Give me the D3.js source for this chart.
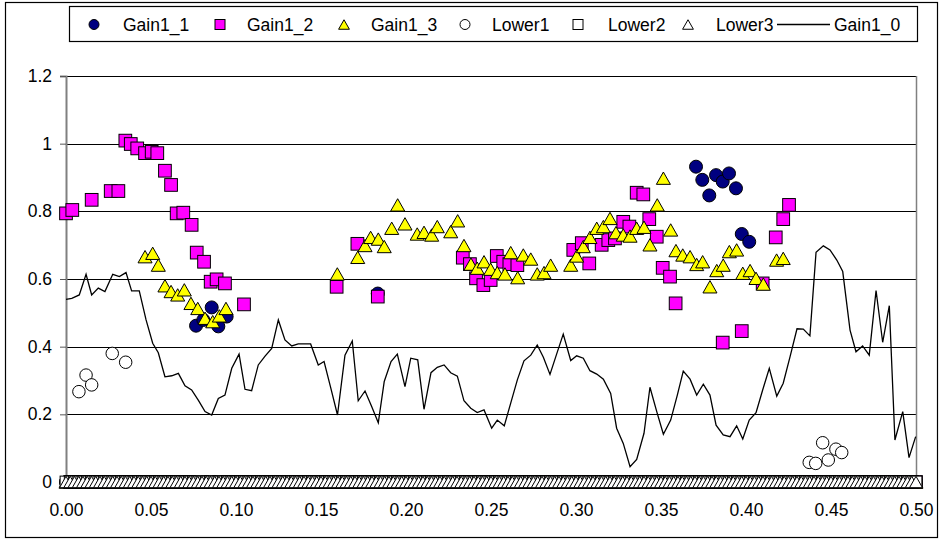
<!DOCTYPE html>
<html>
<head>
<meta charset="utf-8">
<script src="https://cdn.jsdelivr.net/npm/d3@7"></script>
<style>
  html, body { margin: 0; padding: 0; background: #fff; }
  svg { display: block; font-family: "Liberation Sans", Arial, sans-serif; }
</style>
</head>
<body>
<svg id="chart" width="941" height="542"></svg>
<script>
// ---- data -------------------------------------------------------------
const xTicks = [0, 0.05, 0.10, 0.15, 0.20, 0.25, 0.30, 0.35, 0.40, 0.45, 0.50];
const yTicks = [0, 0.2, 0.4, 0.6, 0.8, 1.0, 1.2];
const seriesNames = ["Gain1_1", "Gain1_2", "Gain1_3", "Lower1", "Lower2", "Lower3", "Gain1_0"];

// sampling grid of the zero-valued points along the baseline
const xGrid = d3.range(0, 0.50001, 0.0025);

const gain1_0 = [
  [0,0.540],[0.0034,0.543],[0.0078,0.553],[0.0118,0.614],[0.0151,0.553],[0.019,0.573],
  [0.0229,0.563],[0.0275,0.614],[0.0314,0.607],[0.0353,0.619],[0.0386,0.565],[0.0431,0.565],
  [0.0471,0.479],[0.051,0.410],[0.0543,0.382],[0.0582,0.311],[0.0622,0.314],[0.0661,0.321],
  [0.07,0.284],[0.0739,0.272],[0.0778,0.242],[0.0818,0.208],[0.0857,0.198],[0.0896,0.247],
  [0.0935,0.257],[0.0975,0.336],[0.1018,0.378],[0.1053,0.274],[0.1092,0.270],[0.1131,0.346],
  [0.1171,0.372],[0.121,0.395],[0.1249,0.479],[0.1288,0.420],[0.1328,0.402],[0.1366,0.408],
  [0.1406,0.408],[0.1439,0.408],[0.1484,0.346],[0.1518,0.356],[0.1557,0.279],[0.1597,0.198],
  [0.1641,0.375],[0.1684,0.417],[0.1719,0.240],[0.1759,0.269],[0.1798,0.223],[0.1837,0.175],
  [0.1872,0.297],[0.1912,0.356],[0.1949,0.378],[0.1994,0.282],[0.2028,0.366],[0.2069,0.361],
  [0.2106,0.215],[0.2147,0.323],[0.2184,0.339],[0.2224,0.346],[0.2263,0.323],[0.2302,0.313],
  [0.2341,0.240],[0.2381,0.218],[0.2419,0.205],[0.2459,0.213],[0.2504,0.159],[0.2537,0.183],
  [0.2578,0.166],[0.2616,0.233],[0.2655,0.302],[0.2694,0.358],[0.2734,0.375],[0.2772,0.405],
  [0.2808,0.369],[0.2847,0.318],[0.2886,0.378],[0.2925,0.437],[0.2969,0.359],[0.3004,0.373],
  [0.3043,0.366],[0.3082,0.329],[0.3122,0.319],[0.3161,0.304],[0.3204,0.262],[0.3239,0.159],
  [0.3278,0.114],[0.3318,0.045],[0.3357,0.067],[0.34,0.144],[0.3435,0.280],[0.3475,0.208],
  [0.3514,0.141],[0.3557,0.183],[0.3596,0.257],[0.3631,0.328],[0.3671,0.304],[0.371,0.257],
  [0.3749,0.289],[0.3788,0.257],[0.3824,0.168],[0.3866,0.139],[0.3906,0.134],[0.3945,0.166],
  [0.3981,0.127],[0.4019,0.183],[0.4059,0.205],[0.4098,0.272],[0.4137,0.336],[0.4181,0.254],
  [0.4219,0.292],[0.426,0.372],[0.43,0.453],[0.4337,0.452],[0.4376,0.432],[0.4412,0.679],
  [0.4455,0.698],[0.4494,0.686],[0.4534,0.656],[0.4569,0.622],[0.4612,0.449],[0.4647,0.385],
  [0.4686,0.402],[0.4725,0.375],[0.4765,0.566],[0.4804,0.413],[0.4843,0.521],[0.4876,0.124],
  [0.4922,0.208],[0.4959,0.072],[0.4998,0.134]
];

const gain1_1 = [
  [0.0765,0.462],[0.0808,0.479],[0.0857,0.516],[0.0896,0.460],[0.0945,0.489],[0.1834,0.557],
  [0.3706,0.932],[0.3743,0.893],[0.3784,0.847],[0.3824,0.907],[0.3863,0.888],[0.39,0.912],
  [0.3941,0.868],[0.3975,0.733],[0.4019,0.710]
];

const gain1_2 = [
  [0,0.794],[0.0037,0.804],[0.0151,0.834],[0.0263,0.860],[0.0308,0.860],[0.0349,1.009],
  [0.0381,0.999],[0.0419,0.986],[0.0465,0.972],[0.0504,0.976],[0.0537,0.972],[0.0582,0.920],
  [0.0618,0.878],[0.0651,0.794],[0.069,0.796],[0.0739,0.760],[0.0769,0.678],[0.0812,0.651],
  [0.0851,0.592],[0.0886,0.599],[0.0935,0.587],[0.1047,0.525],[0.1592,0.577],[0.1714,0.704],
  [0.1834,0.548],[0.2334,0.663],[0.2376,0.644],[0.2412,0.602],[0.2455,0.582],[0.2498,0.597],
  [0.2534,0.668],[0.2572,0.651],[0.2608,0.644],[0.2655,0.641],[0.2984,0.686],[0.3034,0.706],
  [0.3078,0.646],[0.3151,0.701],[0.319,0.715],[0.3229,0.720],[0.3278,0.769],[0.3314,0.755],
  [0.3357,0.855],[0.3396,0.850],[0.3431,0.777],[0.3475,0.725],[0.351,0.633],[0.3553,0.607],
  [0.3586,0.528],[0.3863,0.412],[0.3975,0.446],[0.4098,0.587],[0.4175,0.723],[0.4219,0.777],
  [0.4253,0.819]
];

const gain1_3 = [
  [0.0465,0.666],[0.051,0.676],[0.0543,0.641],[0.0582,0.580],[0.0618,0.563],[0.0657,0.553],
  [0.0696,0.568],[0.0735,0.528],[0.0775,0.513],[0.0818,0.484],[0.0863,0.474],[0.0902,0.491],
  [0.0941,0.513],[0.1596,0.615],[0.1716,0.664],[0.1759,0.699],[0.1792,0.723],[0.1837,0.718],
  [0.1872,0.696],[0.1916,0.750],[0.1951,0.819],[0.1994,0.763],[0.2066,0.733],[0.2106,0.738],
  [0.2151,0.730],[0.2184,0.755],[0.2263,0.740],[0.2304,0.772],[0.2341,0.699],[0.2382,0.644],
  [0.2419,0.632],[0.2459,0.651],[0.2498,0.629],[0.2537,0.619],[0.2582,0.615],[0.2616,0.678],
  [0.2657,0.604],[0.269,0.671],[0.2734,0.659],[0.2772,0.615],[0.2812,0.619],[0.2851,0.641],
  [0.2969,0.641],[0.3004,0.668],[0.3043,0.696],[0.3082,0.723],[0.3122,0.750],[0.3161,0.755],
  [0.32,0.779],[0.3235,0.737],[0.3278,0.730],[0.3318,0.727],[0.3357,0.750],[0.34,0.753],
  [0.3435,0.701],[0.3478,0.819],[0.3514,0.898],[0.3557,0.745],[0.3588,0.684],[0.3628,0.671],
  [0.3671,0.666],[0.371,0.643],[0.3745,0.651],[0.3788,0.577],[0.3828,0.625],[0.3866,0.641],
  [0.3902,0.681],[0.3945,0.686],[0.3981,0.617],[0.4024,0.625],[0.4059,0.602],[0.4102,0.585],
  [0.418,0.656],[0.4219,0.661]
];

const lower1 = [
  [0.0076,0.267],[0.0118,0.316],[0.0151,0.287],[0.0272,0.380],[0.0351,0.354],
  [0.4372,0.058],[0.441,0.055],[0.4451,0.116],[0.4484,0.065],[0.4529,0.097],[0.4563,0.087]
];
const lower2 = xGrid.map(x => [x, 0]);
const lower3 = xGrid.map(x => [x, 0]);

// ---- layout -----------------------------------------------------------
const svg = d3.select("#chart");
const x = d3.scaleLinear().domain([0, 0.5]).range([66, 916]);
const y = d3.scaleLinear().domain([0, 1.2]).range([482, 76]);
const FONT = 17.5;

// outer chart frame
svg.append("rect").attr("x", 5.5).attr("y", 2.5).attr("width", 932).attr("height", 535)
  .attr("fill", "#fff").attr("stroke", "#000").attr("stroke-width", 1.2);

// horizontal gridlines
svg.append("g").selectAll("line").data(yTicks.filter(v => v > 0)).join("line")
  .attr("x1", x(0)).attr("x2", x(0.5))
  .attr("y1", d => Math.round(y(d)) + 0.5).attr("y2", d => Math.round(y(d)) + 0.5)
  .attr("stroke", "#000").attr("stroke-width", 1);

// plot area right edge
svg.append("line").attr("x1", x(0.5) + 0.5).attr("x2", x(0.5) + 0.5)
  .attr("y1", y(1.2)).attr("y2", y(0))
  .attr("stroke", "#808080").attr("stroke-width", 1.5);

// axes
const yAxis = svg.append("g").attr("transform", `translate(${x(0)},0)`)
  .call(d3.axisLeft(y).tickValues(yTicks).tickFormat(d3.format("")).tickSize(6).tickPadding(8));
const xAxis = svg.append("g").attr("transform", `translate(0,${y(0)})`)
  .call(d3.axisBottom(x).tickValues(xTicks).tickFormat(d3.format(".2f")).tickSize(5).tickPadding(16.5));
[yAxis, xAxis].forEach(g => {
  g.select(".domain").attr("stroke", "#808080").attr("stroke-width", 2);
  g.selectAll(".tick line").attr("stroke", "#555");
  g.selectAll("text").attr("font-size", FONT).attr("fill", "#000")
    .attr("font-family", "'Liberation Sans', Arial, sans-serif");
});
xAxis.select(".domain").attr("stroke", "#000");

// ---- markers ----------------------------------------------------------
const triPath = (w, h) => `M0,${-h / 2}L${w / 2},${h / 2}L${-w / 2},${h / 2}Z`;
const shapes = {
  circle: (g, s) => g.append("circle").attr("r", s / 2),
  square: (g, s) => g.append("rect").attr("x", -s / 2).attr("y", -s / 2).attr("width", s).attr("height", s),
  triangle: (g, s) => g.append("path").attr("d", triPath(s * 1.08, s * 0.95))
};

function drawSeries(points, shape, fill, size) {
  const g = svg.append("g");
  points.forEach(p => {
    const m = g.append("g").attr("transform", `translate(${x(p[0])},${y(p[1])})`);
    shapes[shape](m, size).attr("fill", fill).attr("stroke", "#000").attr("stroke-width", 1);
  });
}

// zero-valued points of a series on the baseline grid, where it has no reading
const zerosFor = pts => xGrid
  .filter(gx => !pts.some(p => Math.abs(p[0] - gx) < 0.0015))
  .map(gx => [gx, 0]);

drawSeries(zerosFor(gain1_1).concat(gain1_1), "circle", "#000080", 13);
drawSeries(zerosFor(gain1_2).concat(gain1_2), "square", "#FF00FF", 12.7);
drawSeries(zerosFor(gain1_3).concat(gain1_3), "triangle", "#FFFF00", 13);
drawSeries(zerosFor(lower1).concat(lower1), "circle", "#FFFFFF", 12.5);
drawSeries(lower2, "square", "#FFFFFF", 11.8);
drawSeries(lower3, "triangle", "#FFFFFF", 12);

// Gain1_0 line
svg.append("path").datum(gain1_0)
  .attr("d", d3.line().x(d => x(d[0])).y(d => y(d[1])))
  .attr("fill", "none").attr("stroke", "#000").attr("stroke-width", 1.3)
  .attr("stroke-linejoin", "miter");

// ---- legend -----------------------------------------------------------
const legend = svg.append("g");
legend.append("rect").attr("x", 69.5).attr("y", 6.5).attr("width", 848).attr("height", 35)
  .attr("fill", "#fff").attr("stroke", "#000").attr("stroke-width", 1.2);
const legendItems = [
  { name: seriesNames[0], shape: "circle", fill: "#000080", mx: 94, tx: 123 },
  { name: seriesNames[1], shape: "square", fill: "#FF00FF", mx: 220, tx: 247 },
  { name: seriesNames[2], shape: "triangle", fill: "#FFFF00", mx: 344, tx: 371 },
  { name: seriesNames[3], shape: "circle", fill: "#FFFFFF", mx: 465, tx: 492 },
  { name: seriesNames[4], shape: "square", fill: "#FFFFFF", mx: 578, tx: 608 },
  { name: seriesNames[5], shape: "triangle", fill: "#FFFFFF", mx: 688, tx: 716 },
  { name: seriesNames[6], shape: "line", mx: 803, tx: 834 }
];
const ly = 24.5;
legendItems.forEach(it => {
  if (it.shape === "line") {
    legend.append("line").attr("x1", it.mx - 26).attr("x2", it.mx + 27)
      .attr("y1", ly).attr("y2", ly).attr("stroke", "#000").attr("stroke-width", 1.3);
  } else {
    const m = legend.append("g").attr("transform", `translate(${it.mx},${ly})`);
    shapes[it.shape](m, 10).attr("fill", it.fill).attr("stroke", "#000").attr("stroke-width", 1);
  }
  legend.append("text").attr("x", it.tx).attr("y", ly).attr("dy", "0.35em")
    .attr("font-size", FONT).text(it.name);
});
</script>
</body>
</html>
